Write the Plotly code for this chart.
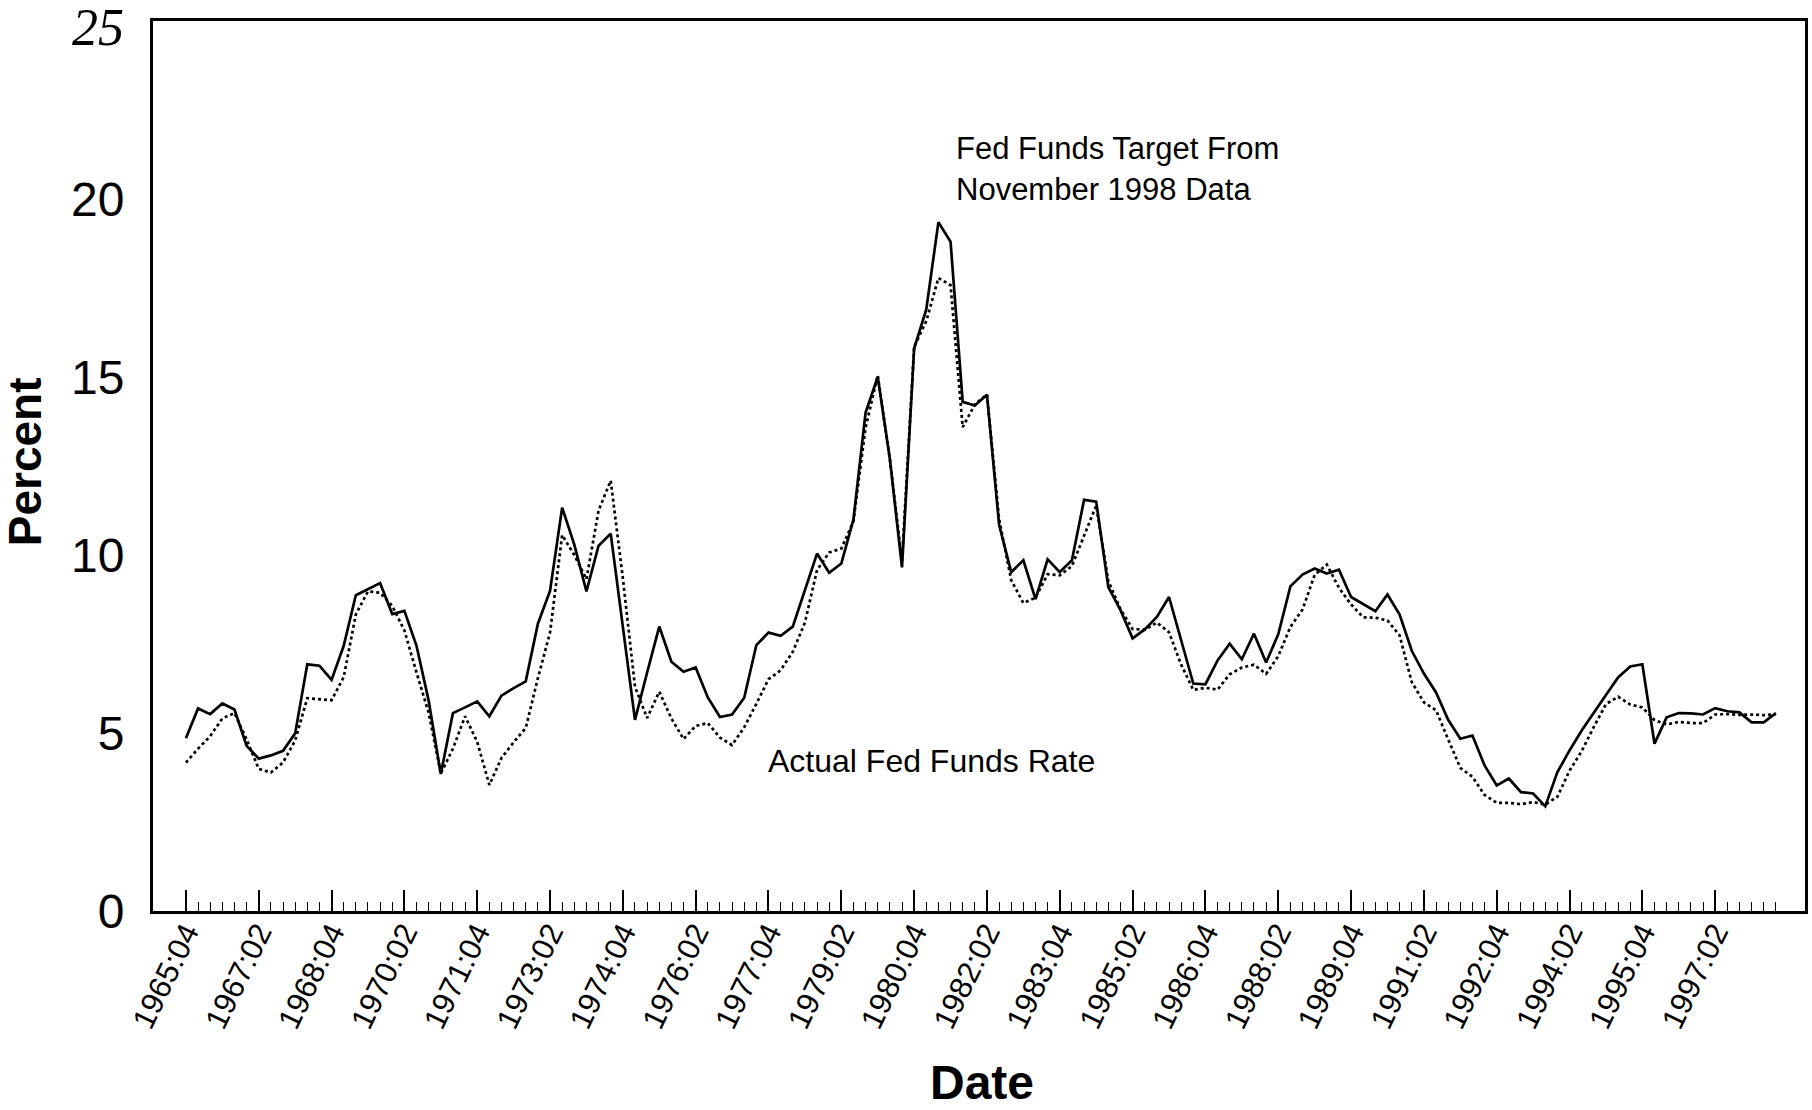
import plotly.graph_objects as go

# ---------------- data ----------------
start_year, start_q = 1965, 4
n_quarters = 132  # 1965:04 .. 1998:03

quarter_labels = []
quarter_x = []
y_, q_ = start_year, start_q
for _ in range(n_quarters):
    quarter_labels.append(f"{y_}:{q_:02d}")
    quarter_x.append(y_ + (q_ - 1) / 4.0)
    q_ += 1
    if q_ > 4:
        q_ = 1
        y_ += 1

# Fed funds target computed from November 1998 data (solid line)
target_rate = [
    4.85, 5.69, 5.53, 5.83, 5.66, 4.64, 4.28, 4.37, 4.50, 4.99,
    6.93, 6.89, 6.49, 7.45, 8.87, 9.04, 9.21, 8.34, 8.43, 7.45,
    5.91, 3.85, 5.56, 5.72, 5.89, 5.47, 6.05, 6.26, 6.45, 8.07,
    8.99, 11.33, 10.29, 8.98, 10.26, 10.60, 8.00, 5.37, 6.70, 7.99,
    7.00, 6.72, 6.84, 6.00, 5.45, 5.52, 5.99, 7.47, 7.82, 7.73,
    7.99, 9.04, 10.04, 9.50, 9.76, 11.00, 14.00, 15.00, 12.70, 9.65,
    15.80, 16.90, 19.35, 18.80, 14.30, 14.20, 14.50, 10.85, 9.52, 9.85,
    8.76, 9.88, 9.52, 9.85, 11.55, 11.50, 9.10, 8.45, 7.66, 7.91,
    8.26, 8.82, 7.60, 6.39, 6.37, 7.04, 7.51, 7.07, 7.79, 6.98,
    7.77, 9.12, 9.45, 9.62, 9.48, 9.59, 8.82, 8.63, 8.42, 8.89,
    8.33, 7.31, 6.67, 6.14, 5.37, 4.84, 4.93, 4.09, 3.53, 3.72,
    3.34, 3.30, 2.94, 3.90, 4.51, 5.07, 5.58, 6.07, 6.56, 6.87,
    6.93, 4.70, 5.44, 5.56, 5.55, 5.52, 5.70, 5.61, 5.58, 5.30,
    5.30, 5.56,
]

# Actual fed funds rate (dotted line)
actual_rate = [
    4.17, 4.56, 4.91, 5.41, 5.56, 4.82, 3.99, 3.89, 4.17, 4.79,
    5.98, 5.94, 5.92, 6.57, 8.33, 8.98, 8.94, 8.57, 7.88, 6.70,
    5.57, 3.86, 4.56, 5.47, 4.75, 3.54, 4.30, 4.74, 5.14, 6.54,
    7.82, 10.56, 10.00, 9.32, 11.25, 12.09, 9.35, 6.30, 5.42, 6.16,
    5.41, 4.83, 5.20, 5.28, 4.87, 4.66, 5.16, 5.82, 6.51, 6.76,
    7.28, 8.10, 9.58, 10.07, 10.18, 10.95, 13.58, 15.05, 12.69, 9.84,
    15.85, 16.57, 17.78, 17.58, 13.59, 14.23, 14.51, 11.01, 9.29, 8.65,
    8.80, 9.46, 9.43, 9.69, 10.56, 11.39, 9.27, 8.48, 7.92, 7.90,
    8.10, 7.83, 6.92, 6.21, 6.27, 6.22, 6.65, 6.84, 6.92, 6.66,
    7.16, 7.98, 8.47, 9.44, 9.73, 9.08, 8.61, 8.25, 8.24, 8.16,
    7.74, 6.43, 5.86, 5.64, 4.82, 4.02, 3.77, 3.26, 3.04, 3.04,
    3.00, 3.06, 2.99, 3.21, 3.94, 4.49, 5.17, 5.81, 6.02, 5.80,
    5.72, 5.36, 5.24, 5.31, 5.28, 5.28, 5.52, 5.53, 5.51, 5.52,
    5.50, 5.53,
]

tick_step = 6
major_x = quarter_x[0:127:tick_step]
major_text = quarter_labels[0:127:tick_step]
y_tick_vals = [0, 5, 10, 15, 20]
y_tick_text = ["0", "5", "10", "15", "20"]
top_tick_text = "25"

# ---------------- figure ----------------
fig = go.Figure()
fig.add_trace(go.Scatter(
    x=quarter_x, y=actual_rate, mode="lines",
    line=dict(color="black", width=2.7, dash="dot"),
    name="Actual Fed Funds Rate", showlegend=False,
))
fig.add_trace(go.Scatter(
    x=quarter_x, y=target_rate, mode="lines",
    line=dict(color="black", width=2.7),
    name="Fed Funds Target", showlegend=False,
))

W, H = 1812, 1110
L, R, T, B = 153, 4, 21, 199
plot_w = W - L - R
plot_h = H - T - B

def px_x(p):
    return (p - L) / plot_w

def px_y(p):
    return (H - B - p) / plot_h

fig.update_layout(
    width=W, height=H,
    margin=dict(l=L, r=R, t=T, b=B, pad=0),
    paper_bgcolor="white", plot_bgcolor="white",
    font=dict(family="Liberation Sans, Arial, sans-serif", color="black"),
    showlegend=False,
)

fig.update_xaxes(
    range=[1965.072, 1999.1],
    showgrid=False, zeroline=False,
    showline=True, linecolor="black", linewidth=3, mirror=True,
    tickmode="array", tickvals=major_x, ticktext=major_text,
    ticks="inside", ticklen=21, tickwidth=2, tickcolor="black",
    tickangle=-64,
    tickfont=dict(size=31, family="Liberation Sans, Arial, sans-serif", color="black"),
    ticklabelstandoff=-12,
    minor=dict(tickmode="array", tickvals=quarter_x, ticks="inside",
               ticklen=9, tickwidth=1.2, tickcolor="black"),
)

fig.update_yaxes(
    range=[0, 25],
    showgrid=False, zeroline=False,
    showline=True, linecolor="black", linewidth=3, mirror=True,
    tickmode="array", tickvals=y_tick_vals, ticktext=y_tick_text,
    ticks="",
    tickfont=dict(size=48, family="Liberation Sans, Arial, sans-serif", color="black"),
    ticklabelstandoff=16,
)

annotations = [
    dict(text=top_tick_text, xref="paper", yref="paper", x=px_x(126), y=px_y(28),
         xanchor="right", yanchor="middle", showarrow=False,
         font=dict(size=52, family="Liberation Serif, DejaVu Serif, serif", style="italic", color="black")),
    dict(text="<b>Percent</b>", xref="paper", yref="paper", x=px_x(25), y=px_y(462),
         xanchor="center", yanchor="middle", textangle=-90, showarrow=False,
         font=dict(size=46, family="Liberation Sans, Arial, sans-serif", color="black")),
    dict(text="<b>Date</b>", xref="paper", yref="paper", x=px_x(984), y=px_y(1082),
         xanchor="center", yanchor="middle", showarrow=False,
         font=dict(size=48, family="Liberation Sans Narrow, Arial Narrow, Liberation Sans, sans-serif", color="black")),
    dict(text="Fed Funds Target From", xref="paper", yref="paper", x=px_x(955), y=px_y(148),
         xanchor="left", yanchor="middle", showarrow=False,
         font=dict(size=31, family="Liberation Sans, Arial, sans-serif", color="black")),
    dict(text="November 1998 Data", xref="paper", yref="paper", x=px_x(955), y=px_y(190),
         xanchor="left", yanchor="middle", showarrow=False,
         font=dict(size=31, family="Liberation Sans, Arial, sans-serif", color="black")),
    dict(text="Actual Fed Funds Rate", xref="paper", yref="paper", x=px_x(767), y=px_y(761),
         xanchor="left", yanchor="middle", showarrow=False,
         font=dict(size=32, family="Liberation Sans, Arial, sans-serif", color="black")),
]
fig.update_layout(annotations=annotations)

fig.write_html(
    "out.html",
    config={"displayModeBar": False},
    post_script="document.body.style.margin='0';document.body.style.overflow='hidden';",
)
